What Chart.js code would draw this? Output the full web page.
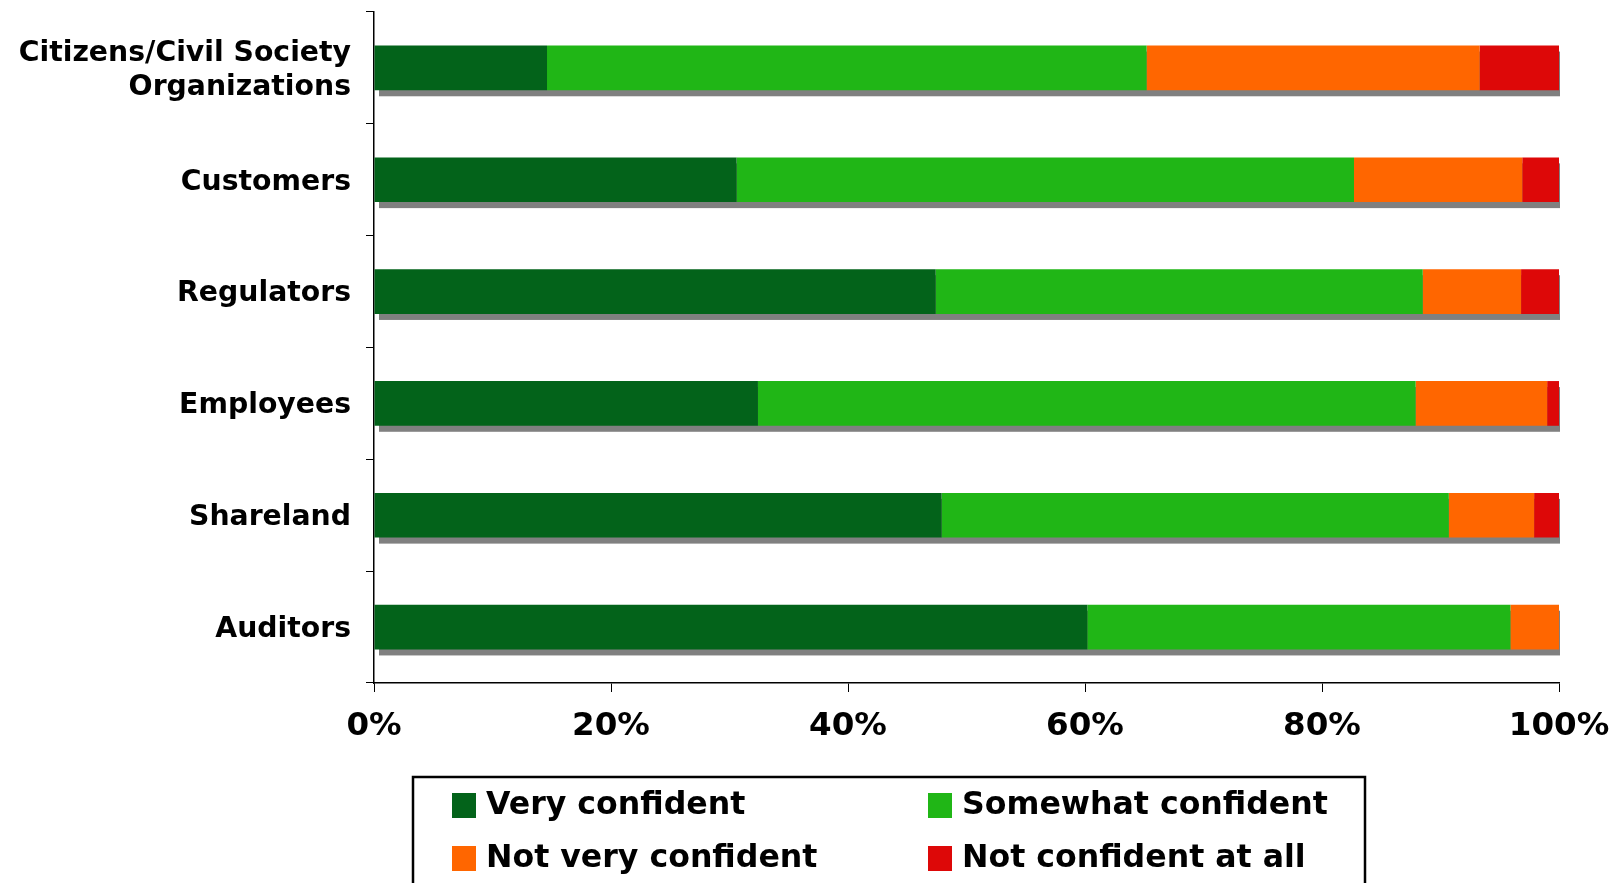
<!DOCTYPE html>
<html>
<head>
<meta charset="utf-8">
<title>Confidence by stakeholder</title>
<script src="https://cdn.jsdelivr.net/npm/chart.js@4/dist/chart.umd.min.js"></script>
<style>
    html, body { margin: 0; padding: 0; background: #fff; }
    #wrap { position: relative; width: 1622px; height: 883px; }
</style>
</head>
<body>
<div id="wrap"><canvas id="confidence-chart"></canvas></div>
<script>
const categories = [
    ["Citizens/Civil Society", "Organizations"],
    "Customers",
    "Regulators",
    "Employees",
    "Shareland",
    "Auditors",
];
const seriesNames = ["Very confident", "Somewhat confident", "Not very confident", "Not confident at all"];
const veryConfident = [14.6, 30.6, 47.4, 32.4, 47.9, 60.2];
const somewhatConfident = [50.6, 52.1, 41.1, 55.5, 42.8, 35.7];
const notVeryConfident = [28.1, 14.2, 8.3, 11.1, 7.2, 4.1];
const notConfidentAtAll = [6.7, 3.1, 3.2, 1.0, 2.1, 0];
const tickValues = [0, 20, 40, 60, 80, 100];

const COLORS = ["#03631A", "#20B616", "#FF6600", "#DD0808"];

Chart.defaults.font.family = "'DejaVu Sans', Verdana, sans-serif";
Chart.defaults.font.weight = "bold";
Chart.defaults.color = "#000";

// grey drop shadow behind each full stacked bar
const barShadow = {
    id: "barShadow",
    beforeDatasetsDraw(chart) {
        const { ctx } = chart;
        const x = chart.scales.x;
        const meta = chart.getDatasetMeta(0);
        ctx.save();
        ctx.fillStyle = "#808080";
        meta.data.forEach((bar) => {
            const h = bar.height;
            const top = bar.y - h / 2;
            const left = x.getPixelForValue(0);
            const right = x.getPixelForValue(100);
            ctx.fillRect(left + 5, top + 6, right - left - 4, h);
        });
        ctx.restore();
    },
};

// boxed two-column legend under the axis
const boxLegend = {
    id: "boxLegend",
    afterDraw(chart, args, opts) {
        const { ctx } = chart;
        ctx.save();
        ctx.strokeStyle = "#000";
        ctx.lineWidth = 2.5;
        ctx.strokeRect(opts.left, opts.top, opts.width, opts.height);
        ctx.font = "bold 31.6px 'DejaVu Sans', Verdana, sans-serif";
        ctx.textBaseline = "middle";
        chart.data.datasets.forEach((ds, i) => {
            const col = i % 2;
            const row = Math.floor(i / 2);
            const sx = opts.columns[col];
            const cy = opts.rows[row];
            ctx.fillStyle = ds.backgroundColor;
            ctx.fillRect(sx, cy - 12, 24, 25);
            ctx.fillStyle = "#000";
            ctx.fillText(ds.label, sx + 34, cy + 1);
        });
        ctx.restore();
    },
};

// keep the axes from reserving extra room for their end labels
const noScalePadding = (scale) => {
    scale.paddingTop = 0;
    scale.paddingBottom = 0;
    scale.paddingLeft = 0;
    scale.paddingRight = 0;
};

const seriesValues = [veryConfident, somewhatConfident, notVeryConfident, notConfidentAtAll];

const config = {
    type: "bar",
    data: {
        labels: categories,
        datasets: seriesNames.map((name, i) => ({
            label: name,
            data: seriesValues[i],
            backgroundColor: COLORS[i],
            borderWidth: 0,
            categoryPercentage: 1,
            barPercentage: 0.4,
        })),
    },
    options: {
        indexAxis: "y",
        responsive: true,
        maintainAspectRatio: false,
        animation: false,
        layout: { padding: { top: 12, right: 63, bottom: 0, left: 0 } },
        scales: {
            x: {
                stacked: true,
                min: 0,
                max: 100,
                afterBuildTicks: (scale) => {
                    scale.ticks = tickValues.map((v) => ({ value: v }));
                },
                afterFit: (scale) => {
                    scale.height = 200;
                    noScalePadding(scale);
                },
                grid: {
                    drawOnChartArea: false,
                    drawTicks: true,
                    tickLength: 9,
                    color: "#000",
                },
                border: { display: true, color: "#000", width: 1.5 },
                ticks: {
                    padding: 15,
                    maxRotation: 0,
                    font: { size: 32.5, weight: "bold" },
                    callback: (v) => v + "%",
                },
            },
            y: {
                stacked: true,
                afterFit: (scale) => {
                    scale.width = 374;
                    noScalePadding(scale);
                },
                grid: {
                    drawOnChartArea: false,
                    drawTicks: true,
                    tickLength: 8,
                    color: "#000",
                },
                border: { display: true, color: "#000", width: 1.5 },
                ticks: {
                    padding: 15,
                    labelOffset: 2.5,
                    font: { size: 28.3, weight: "bold", lineHeight: 1.2 },
                },
            },
        },
        plugins: {
            legend: { display: false },
            tooltip: { enabled: false },
            boxLegend: {
                left: 413,
                top: 777,
                width: 952,
                height: 120,
                columns: [452, 928],
                rows: [805, 858],
            },
        },
    },
    plugins: [barShadow, boxLegend],
};

new Chart(document.getElementById("confidence-chart"), config);
</script>
</body>
</html>
